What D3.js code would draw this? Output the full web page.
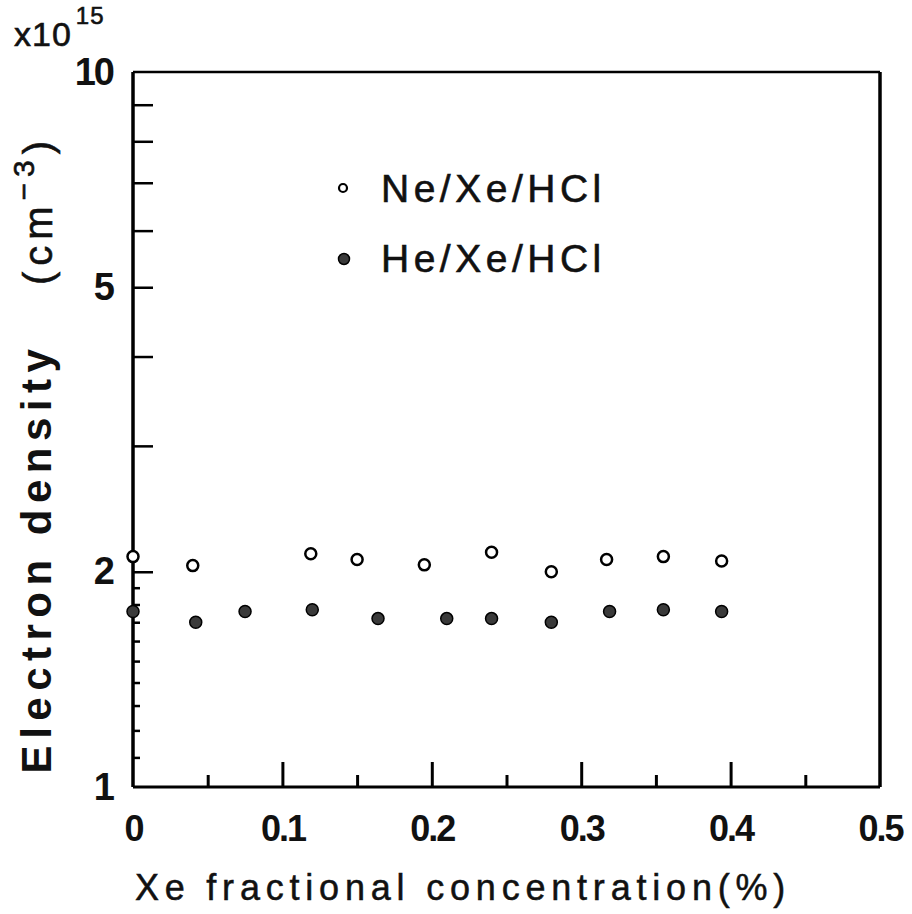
<!DOCTYPE html>
<html>
<head>
<meta charset="utf-8">
<script src="https://cdn.jsdelivr.net/npm/d3@7"></script>
<style>
  body { margin: 0; background: #fff; }
  svg { display: block; font-family: "Liberation Sans", Arial, sans-serif; }
</style>
</head>
<body>
<div id="chart"></div>
<script>
// Xe fractional concentration (%) and electron density (x10^15 cm^-3)
var neX = [0, 0.040, 0.119, 0.150, 0.195, 0.240, 0.280, 0.317, 0.355, 0.394];
var neY = [2.10, 2.04, 2.12, 2.08, 2.045, 2.13, 2.00, 2.08, 2.10, 2.07];
var heX = [0, 0.042, 0.075, 0.120, 0.164, 0.210, 0.240, 0.280, 0.319, 0.355, 0.394];
var heY = [1.76, 1.70, 1.76, 1.77, 1.72, 1.72, 1.72, 1.70, 1.76, 1.77, 1.76];

var xMajor = [0.1, 0.2, 0.3, 0.4];
var xMinor = [0.05, 0.15, 0.25, 0.35, 0.45];
var xTickLabels = [0, 0.1, 0.2, 0.3, 0.4, 0.5];
var yMajor = [2, 3, 4, 5, 6, 7, 8, 9];
var yMinor = [1.1, 1.2, 1.3, 1.4, 1.5, 1.6, 1.7, 1.8, 1.9];
var yTickLabels = [1, 2, 5, 10];
var seriesNames = ["Ne/Xe/HCl", "He/Xe/HCl"];

function drawChart() {
  var W = 912, H = 914;
  var left = 133, right = 880, top = 72, bottom = 787;

  var svg = d3.select("#chart").append("svg")
    .attr("width", W)
    .attr("height", H);

  var x = d3.scaleLinear().domain([0, 0.5]).range([left, right]);
  var y = d3.scaleLog().domain([1, 10]).range([bottom, top]);

  // inward ticks on bottom axis
  svg.append("g")
    .attr("transform", "translate(0," + bottom + ")")
    .call(d3.axisBottom(x).tickValues(xMajor).tickSizeInner(-25).tickSizeOuter(0).tickFormat(""))
    .call(g => g.select(".domain").remove())
    .selectAll("line").attr("stroke", "#000").attr("stroke-width", 3);

  svg.append("g")
    .attr("transform", "translate(0," + bottom + ")")
    .call(d3.axisBottom(x).tickValues(xMinor).tickSizeInner(-12).tickSizeOuter(0).tickFormat(""))
    .call(g => g.select(".domain").remove())
    .selectAll("line").attr("stroke", "#000").attr("stroke-width", 3);

  // x tick labels
  svg.append("g")
    .attr("transform", "translate(0," + bottom + ")")
    .call(d3.axisBottom(x).tickValues(xTickLabels).tickSize(0).tickPadding(28)
      .tickFormat(d => d === 0 ? "0" : d3.format(".1f")(d)))
    .call(g => g.select(".domain").remove())
    .selectAll("text")
      .attr("font-family", "'Liberation Sans', Arial, sans-serif")
      .attr("font-size", 36)
      .attr("font-weight", "bold")
      .attr("letter-spacing", -2)
      .attr("fill", "#111");

  // inward ticks on left axis
  svg.append("g")
    .attr("transform", "translate(" + left + ",0)")
    .call(d3.axisLeft(y).tickValues(yMajor).tickSizeInner(-20).tickSizeOuter(0).tickFormat(""))
    .call(g => g.select(".domain").remove())
    .selectAll("line").attr("stroke", "#000").attr("stroke-width", 2.5);

  svg.append("g")
    .attr("transform", "translate(" + left + ",0)")
    .call(d3.axisLeft(y).tickValues(yMinor).tickSizeInner(-7).tickSizeOuter(0).tickFormat(""))
    .call(g => g.select(".domain").remove())
    .selectAll("line").attr("stroke", "#000").attr("stroke-width", 2.5);

  svg.append("g")
    .attr("transform", "translate(" + left + ",0)")
    .call(d3.axisLeft(y).tickValues(yTickLabels).tickSize(0).tickPadding(20).tickFormat(d3.format("d")))
    .call(g => g.select(".domain").remove())
    .selectAll("text")
      .attr("font-family", "'Liberation Sans', Arial, sans-serif")
      .attr("font-size", 38)
      .attr("font-weight", "bold")
      .attr("letter-spacing", -2)
      .attr("fill", "#111");

  // frame
  svg.append("line").attr("x1", left).attr("x2", right).attr("y1", top).attr("y2", top)
    .attr("stroke", "#000").attr("stroke-width", 2.5);
  svg.append("line").attr("x1", left).attr("x2", right).attr("y1", bottom).attr("y2", bottom)
    .attr("stroke", "#000").attr("stroke-width", 3);
  svg.append("line").attr("x1", left).attr("x2", left).attr("y1", top).attr("y2", bottom)
    .attr("stroke", "#000").attr("stroke-width", 3.5);
  svg.append("line").attr("x1", right).attr("x2", right).attr("y1", top).attr("y2", bottom)
    .attr("stroke", "#000").attr("stroke-width", 3.5);

  // data
  var ne = neX.map((d, i) => ({x: d, y: neY[i]}));
  var he = heX.map((d, i) => ({x: d, y: heY[i]}));

  svg.append("g").selectAll("circle")
    .data(ne).enter().append("circle")
    .attr("cx", d => x(d.x))
    .attr("cy", d => y(d.y))
    .attr("r", 5.5)
    .attr("fill", "#fff")
    .attr("stroke", "#000")
    .attr("stroke-width", 2.5);

  svg.append("g").selectAll("circle")
    .data(he).enter().append("circle")
    .attr("cx", d => x(d.x))
    .attr("cy", d => y(d.y))
    .attr("r", 6)
    .attr("fill", "#3a3a3a")
    .attr("stroke", "#000")
    .attr("stroke-width", 1.5);

  // legend
  svg.append("circle").attr("cx", 343).attr("cy", 188).attr("r", 4)
    .attr("fill", "#fff").attr("stroke", "#000").attr("stroke-width", 2.2);
  svg.append("circle").attr("cx", 344).attr("cy", 259).attr("r", 5.5)
    .attr("fill", "#3a3a3a").attr("stroke", "#000").attr("stroke-width", 1.5);

  svg.selectAll(".legtext")
    .data(seriesNames).enter().append("text")
    .attr("class", "legtext")
    .attr("x", 381)
    .attr("y", (d, i) => i === 0 ? 202 : 272)
    .attr("font-size", 39)
    .attr("letter-spacing", 4.5)
    .attr("stroke", "#111")
    .attr("stroke-width", 0.6)
    .attr("fill", "#111")
    .text(d => d);

  // y axis title
  svg.append("text")
    .attr("transform", "translate(51,558) rotate(-90)")
    .attr("text-anchor", "middle")
    .attr("font-size", 42)
    .attr("font-weight", "bold")
    .attr("letter-spacing", 6.5)
    .attr("fill", "#111")
    .text("Electron  density");

  var unit = svg.append("text")
    .attr("transform", "translate(52,210) rotate(-90)")
    .attr("text-anchor", "middle")
    .attr("font-size", 40)
    .attr("letter-spacing", 6)
    .attr("stroke", "#111")
    .attr("stroke-width", 0.6)
    .attr("fill", "#111");
  unit.append("tspan").text("(cm");
  unit.append("tspan").attr("dy", -18).attr("font-size", 30).text("\u2212" + "3");
  unit.append("tspan").attr("dy", 18).text(")");

  // multiplier
  var mult = svg.append("text")
    .attr("x", 14)
    .attr("y", 46)
    .attr("font-size", 34)
    .attr("letter-spacing", 1)
    .attr("stroke", "#111")
    .attr("stroke-width", 0.6)
    .attr("fill", "#111");
  mult.append("tspan").text("x10");
  mult.append("tspan").attr("dy", -22).attr("dx", 4).attr("font-size", 24).text("15");

  // x axis title
  svg.append("text")
    .attr("x", 463)
    .attr("y", 900)
    .attr("text-anchor", "middle")
    .attr("font-size", 36)
    .attr("letter-spacing", 5.8)
    .attr("stroke", "#111")
    .attr("stroke-width", 0.5)
    .attr("fill", "#111")
    .text("Xe fractional concentration(%)");
}

window.onload = function () {
  drawChart();
};
</script>
</body>
</html>
